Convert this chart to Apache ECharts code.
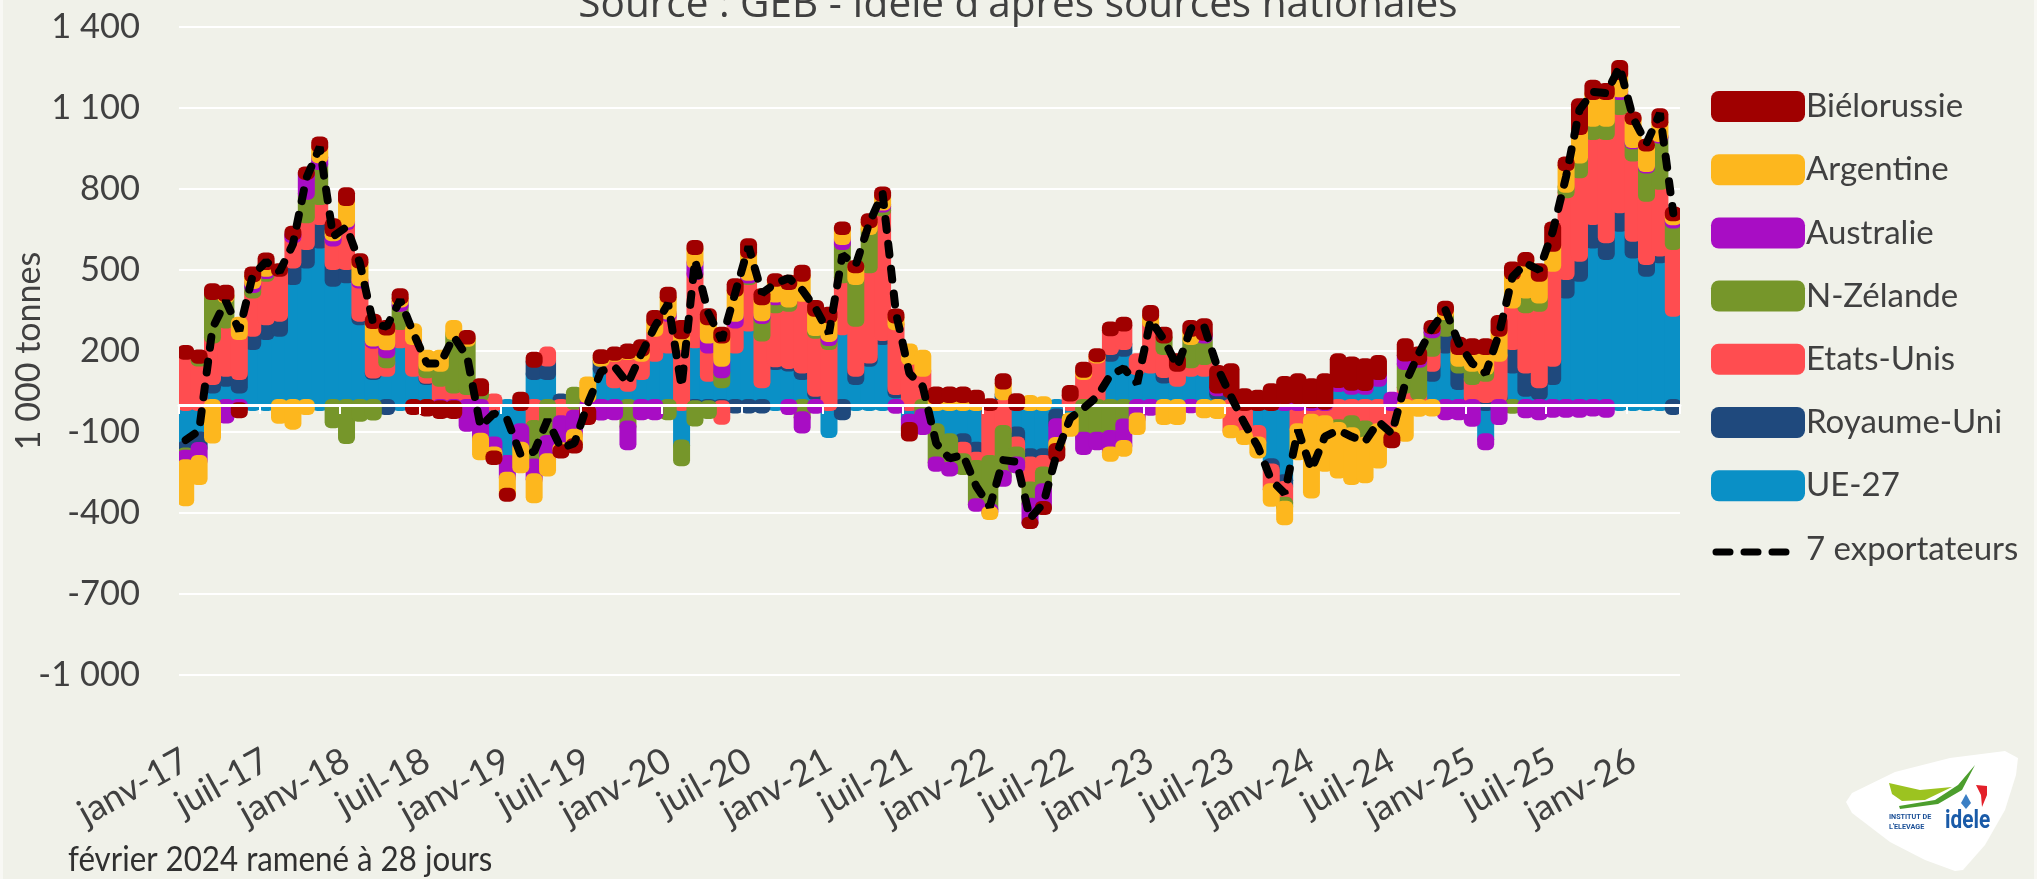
<!DOCTYPE html>
<html lang="fr">
<head>
<meta charset="utf-8">
<style>html,body{margin:0;padding:0;background:#F0F1E9}#c{width:2037px;height:879px}</style>
<script src="https://cdn.jsdelivr.net/npm/echarts@6/dist/echarts.min.js"></script>
</head>
<body>
<div id="c"></div>
<script>
const _ = null;
const monthNames = ['janv','févr','mars','avr','mai','juin','juil','août','sept','oct','nov','déc'];
const firstYear = 17, monthCount = 112;
const categories = [];
for (let i = 0; i < monthCount; i++) {
  categories.push(monthNames[i % 12] + '-' + (firstYear + Math.floor(i / 12)));
}
const yTicks = [-1000, -700, -400, -100, 200, 500, 800, 1100, 1400];

const ue27 = [
  -155,-120,65,90,65,226,263,275,467,528,
  602,460,473,318,115,127,232,127,96,_,
  _,_,_,-139,-207,-90,115,115,_,_,
  _,133,84,71,115,182,213,-150,232,108,
  84,213,294,84,152,146,115,41,-100,281,
  96,164,244,47,-55,_,-90,-127,-127,-158,
  _,30,-102,-182,-182,-35,-50,_,_,182,
  201,133,139,102,90,127,127,40,15,_,
  -96,-219,-279,_,-20,_,70,60,60,90,
  _,_,_,108,213,78,10,-127,15,139,
  53,40,96,417,479,602,559,664,565,497,
  547,349];
const royaumeUni = [
  -25,-39,31,37,50,49,55,56,61,68,
  87,62,49,13,5,-15,_,_,5,_,
  _,_,_,_,_,_,45,50,20,5,
  _,31,_,_,_,_,_,_,-5,-5,
  -5,-9,-9,-9,10,10,24,12,_,-34,
  31,12,15,12,_,_,_,_,-31,-37,
  -30,10,-37,-31,-25,-36,_,_,_,25,
  25,_,_,20,_,_,_,15,32,_,
  _,-20,-25,_,_,_,_,_,_,_,
  _,_,_,37,62,61,15,30,15,87,
  86,44,68,68,74,87,62,68,62,44,
  25,-15];
const etatsUnis = [
  190,165,154,179,148,142,161,166,93,99,
  74,87,148,123,111,31,68,117,20,90,
  65,59,35,20,_,_,-78,29,-60,-40,
  _,_,98,118,67,93,118,226,253,105,
  -46,93,173,173,200,212,266,215,226,192,
  185,334,461,240,170,127,_,_,-43,-31,
  -177,-96,-37,-93,-43,_,35,115,176,70,
  68,36,167,85,55,31,43,_,-96,-115,
  -43,-73,-58,-90,-35,-60,-75,-60,-80,-90,
  -105,65,40,56,_,_,71,78,152,154,
  223,284,352,303,309,315,383,364,297,234,
  247,247];
const nZelande = [
  -8,10,161,93,_,20,10,_,_,87,
  130,-64,-122,-40,-35,37,68,_,25,55,
  198,179,20,_,_,_,-142,-133,_,40,
  30,_,_,-80,_,_,-34,-55,-52,-25,
  37,_,5,65,30,15,-45,10,15,123,
  155,142,15,_,_,-35,-123,-105,-36,-142,
  -179,-167,-37,-60,-62,_,_,-121,-121,-115,
  -72,_,_,43,_,86,80,_,_,_,
  _,_,-15,_,_,_,-10,-45,-60,_,
  _,87,120,68,62,25,49,25,_,-10,
  55,30,_,20,55,49,49,56,45,105,
  172,80];
const australie = [
  -35,-48,_,-46,-12,15,8,_,10,74,
  25,20,10,8,8,30,15,_,_,-5,
  -5,-77,-125,-37,-62,-68,-55,-68,-100,-70,
  -22,-35,-34,-65,-34,-34,8,_,43,37,
  43,25,10,10,10,-15,-38,-10,15,19,
  _,_,8,-10,-30,-54,-12,-11,_,-5,
  -10,-18,-18,-70,-66,-70,_,-42,-24,-61,
  -80,-50,-18,_,_,-8,10,10,_,_,
  _,_,25,25,10,5,15,15,14,25,
  27,31,10,15,-34,-34,-58,-18,-52,_,
  -27,-34,-25,-25,-25,-20,-25,10,5,5,
  5,12];
const argentine = [
  -130,-67,-120,6,42,25,25,-47,-69,-15,
  38,15,79,66,65,55,12,37,36,37,
  30,8,-57,-15,-60,-73,-67,-42,-8,-35,
  53,10,4,4,20,37,60,40,50,68,
  86,92,83,60,58,65,74,71,69,37,
  43,25,32,25,36,55,25,30,30,20,
  -8,40,_,15,10,-22,-45,8,5,-12,
  -17,-39,25,-52,-52,31,-27,-30,-5,-11,
  -37,-43,-46,-92,-269,-165,-165,-169,-128,-123,
  -15,-114,-21,-20,15,43,62,74,93,105,
  118,81,74,80,105,99,99,64,85,76,
  51,15];
const bielorussie = [
  10,8,18,18,-15,14,21,6,11,5,
  16,25,25,12,12,13,15,-15,-20,-25,
  -25,10,22,-9,-7,27,15,_,-8,-12,
  -30,10,8,13,19,18,17,27,11,18,
  18,24,30,18,6,12,18,18,17,5,
  5,11,12,11,-28,_,21,16,16,14,
  3,15,21,-1,-7,-25,17,15,7,10,
  11,_,17,18,24,18,39,61,85,40,
  34,58,60,70,67,90,84,82,77,48,
  -18,42,24,9,12,24,18,18,36,24,
  9,24,67,10,92,30,18,30,6,3,
  30,10];
const sept = [
  -130,-95,285,385,275,480,531,494,595,840,
  955,624,660,525,300,290,389,265,154,154,
  253,179,-80,-31,-55,-185,-173,-55,-160,-142,
  5,125,142,80,190,290,376,68,537,340,
  240,414,587,414,450,470,426,358,265,556,
  519,673,784,340,117,68,-142,-198,-185,-302,
  -377,-204,-210,-420,-364,-179,-49,-12,31,111,
  136,80,315,241,142,284,290,136,31,-68,
  -154,-278,-327,-93,-240,-117,-93,-117,-136,-62,
  -105,80,190,284,352,228,154,117,265,475,
  525,500,642,846,1093,1160,1155,1253,1062,969,
  1080,710];

const stackSeries = [
  ['UE-27', ue27, '#0A90C6'],
  ['Royaume-Uni', royaumeUni, '#1F497D'],
  ['Etats-Unis', etatsUnis, '#FF4D50'],
  ['N-Zélande', nZelande, '#76962A'],
  ['Australie', australie, '#A80DC4'],
  ['Argentine', argentine, '#FDB71E'],
  ['Biélorussie', bielorussie, '#A00000']
];
const legendOrder = ['Biélorussie','Argentine','Australie','N-Zélande','Etats-Unis','Royaume-Uni','UE-27','7 exportateurs'];
const txt = '#404040', uiFont = 'Lato';
const spaced = v => String(v).replace(/\B(?=(\d{3})+$)/, ' ');

const posSum = categories.map(() => 0), negSum = categories.map(() => 0);
const series = stackSeries.map(([name, values, color]) => {
  const data = values.map((v, i) => {
    if (v === null) return [i, null, 0];
    const sums = v >= 0 ? posSum : negSum;
    const base = sums[i];
    sums[i] += v;
    return [i, v, base];
  });
  return {
    name, type: 'custom', data, z: 2, clip: true, animation: false,
    encode: { x: 0, y: 1 }, itemStyle: { color },
    emphasis: { disabled: true }, silent: true,
    renderItem(params, api) {
      const v = api.value(1);
      if (v === null || isNaN(v)) return null;
      const b = api.value(2);
      const p0 = api.coord([api.value(0), b]);
      const p1 = api.coord([api.value(0), b + v]);
      const bw = 5;
      return {
        type: 'rect',
        shape: { x: p0[0] - bw / 2, y: Math.min(p0[1], p1[1]), width: bw, height: Math.abs(p1[1] - p0[1]) },
        style: { fill: color, stroke: color, lineWidth: 12, lineJoin: 'round' }
      };
    }
  };
});
series.push({
  name: '7 exportateurs', type: 'line', data: sept, showSymbol: false, symbol: 'none', z: 20,
  lineStyle: { color: '#000', width: 8, type: [11, 14], cap: 'round' },
  itemStyle: { color: '#000' }, animation: false
});

const chart = echarts.init(document.getElementById('c'), null, { renderer: 'canvas' });
chart.setOption({
  backgroundColor: '#F0F1E9',
  animation: false,
  title: {
    text: "Source : GEB - Idele d'après sources nationales",
    left: 1013, textAlign: 'center', top: -20,
    textStyle: { fontFamily: 'Open Sans', fontWeight: 'normal', fontSize: 40.5, color: txt }
  },
  legend: {
    orient: 'vertical', left: 1706, top: 85, itemWidth: 94, itemHeight: 31, itemGap: 30.2,
    data: legendOrder.map(name => name === '7 exportateurs'
      ? { name, icon: 'rect', itemStyle: { opacity: 0 } }
      : { name, icon: 'roundRect' }),
    selectedMode: false,
    itemStyle: { borderWidth: 0 },
    textStyle: { fontFamily: uiFont, fontSize: 33, color: txt, padding: [0, 0, 0, -4] }
  },
  grid: { left: 179, top: 27, width: 1501, height: 648, outerBoundsMode: 'none' },
  xAxis: [
    {
      type: 'category', data: categories, position: 'bottom',
      axisLine: { show: false, onZero: false }, axisTick: { show: false },
      axisLabel: { interval: 5, rotate: 29, margin: 83, fontFamily: uiFont, fontSize: 36, color: txt, hideOverlap: false }
    },
    {
      type: 'category', data: categories, position: 'top', z: 12,
      axisLine: { show: true, onZero: true, lineStyle: { color: '#fff', width: 3 } },
      axisTick: { show: true, interval: 5, inside: true, length: 9, lineStyle: { color: '#fff', width: 2 } },
      axisLabel: { show: false }
    }
  ],
  yAxis: {
    type: 'value', min: -1000, max: 1400,
    axisLine: { show: false },
    axisTick: { show: false, customValues: yTicks },
    axisLabel: { customValues: yTicks, margin: 39, fontFamily: uiFont, fontSize: 34.5, color: txt, formatter: spaced },
    splitLine: { show: true, lineStyle: { color: '#fff', width: 2 } }
  },
  series,
  graphic: [
    { type: 'rect', shape: { x: 0, y: 0, width: 3, height: 879 }, style: { fill: '#fff', opacity: 0.5 } },
    { type: 'rect', shape: { x: 2034, y: 0, width: 3, height: 879 }, style: { fill: '#fff', opacity: 0.5 } },
    { type: 'text', x: 29, y: 351, rotation: Math.PI / 2, style: { text: '1 000 tonnes', fontFamily: uiFont, fontSize: 34, fill: txt, textAlign: 'center', textVerticalAlign: 'middle' } },
    { type: 'line', shape: { x1: 1716, y1: 552, x2: 1800, y2: 552 }, style: { stroke: '#000', lineWidth: 7, lineDash: [14, 14], lineCap: 'round' } },
    { type: 'text', x: 68, y: 843, scaleX: 0.92, style: { text: 'février 2024 ramené à 28 jours', fontFamily: 'Lato', fontSize: 34, fill: '#303030' } },
    { type: 'polygon', shape: { points: [[2005,751],[1950,758],[1895,772],[1852,793],[1846,802],[1852,813],[1890,842],[1925,860],[1955,871],[1963,870],[1985,845],[2005,810],[2016,775],[2018,758]] }, style: { fill: '#fff' } },
    { type: 'polygon', shape: { points: [[1889,783],[1920,790],[1952,787],[1925,800],[1902,801],[1892,794]] }, style: { fill: '#9CC320' } },
    { type: 'polygon', shape: { points: [[1899,806],[1935,800],[1958,785],[1975,765],[1962,790],[1938,804],[1900,809]] }, style: { fill: '#4C9E2D' } },
    { type: 'polygon', shape: { points: [[1966,794],[1971,803],[1966,809],[1961,803]] }, style: { fill: '#3B7FC4' } },
    { type: 'polygon', shape: { points: [[1976,785],[1987,786],[1987,795],[1982,807],[1981,795]] }, style: { fill: '#E3202A' } },
    { type: 'text', x: 1889, y: 812, scaleX: 0.9, style: { text: 'INSTITUT DE\nL\'ELEVAGE', fontFamily: 'Roboto', fontWeight: 'bold', fontSize: 8, lineHeight: 10, fill: '#1A4F96' } },
    { type: 'text', x: 1945, y: 808, scaleX: 0.8, style: { text: 'idele', fontFamily: 'Roboto', fontWeight: 'bold', fontSize: 26, fill: '#1A5BA8' } }
  ]
});
</script>
</body>
</html>
